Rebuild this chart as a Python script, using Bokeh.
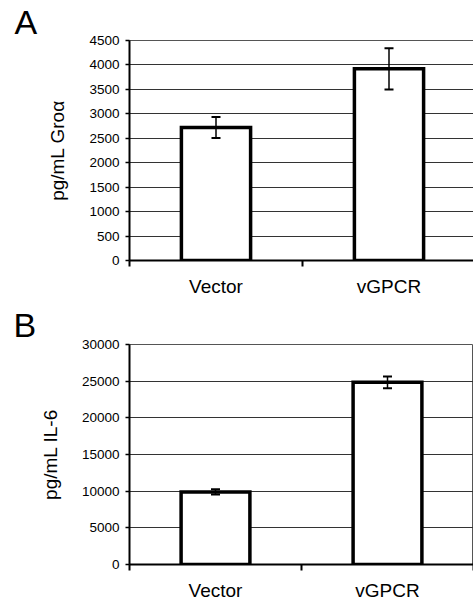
from bokeh.plotting import figure
from bokeh.models import FixedTicker, Whisker, ColumnDataSource, Range1d, TeeHead, Title
from bokeh.layouts import column
from bokeh.embed import file_html
from bokeh.resources import INLINE

categories = ["Vector", "vGPCR"]
gro_values = [2720, 3920]
gro_errors = [215, 420]
il6_values = [9900, 24850]
il6_errors = [350, 800]
gro_ticks = [0, 500, 1000, 1500, 2000, 2500, 3000, 3500, 4000, 4500]
il6_ticks = [0, 5000, 10000, 15000, 20000, 25000, 30000]

FONT = "Liberation Sans"
TOTAL_W = 473


def make_panel(letter, values, errors, yticks, ylabel, border_left, border_top,
               border_bottom, x_standoff, letter_offset, letter_standoff):
    xs = [i + 0.5 for i in range(len(categories))]
    src = ColumnDataSource(dict(
        x=xs, top=values,
        upper=[v + e for v, e in zip(values, errors)],
        lower=[v - e for v, e in zip(values, errors)],
    ))
    title = Title(text=letter, align="left", offset=letter_offset,
                  standoff=letter_standoff, text_font=FONT,
                  text_font_size="34px", text_font_style="normal",
                  text_color="black")
    p = figure(frame_width=TOTAL_W - border_left, frame_height=220,
               x_range=Range1d(0, len(categories)),
               y_range=Range1d(yticks[0], yticks[-1]),
               output_backend="svg", toolbar_location=None, title=title,
               min_border_left=border_left, min_border_right=0,
               min_border_top=border_top, min_border_bottom=border_bottom)
    p.background_fill_color = "white"
    p.border_fill_color = "white"
    p.outline_line_color = "#555555"
    p.outline_line_width = 1

    p.vbar(x="x", top="top", width=0.4, bottom=0, source=src,
           fill_color="white", line_color="black", line_width=3.5,
           line_join="miter")

    w = Whisker(base="x", upper="upper", lower="lower", source=src,
                line_color="black", line_width=1.5, level="overlay",
                upper_head=TeeHead(size=9, line_width=2, line_color="black"),
                lower_head=TeeHead(size=9, line_width=2, line_color="black"))
    p.add_layout(w)

    # x axis
    xa = p.xaxis[0]
    xa.ticker = FixedTicker(ticks=xs, minor_ticks=list(range(len(categories) + 1)))
    xa.major_label_overrides = {x: c for x, c in zip(xs, categories)}
    xa.major_tick_out = 0
    xa.major_tick_in = 0
    xa.minor_tick_out = 6
    xa.minor_tick_in = 0
    xa.minor_tick_line_color = "black"
    xa.minor_tick_line_width = 2
    xa.axis_line_width = 2
    xa.axis_line_color = "black"
    xa.major_label_text_font = FONT
    xa.major_label_text_font_size = "19px"
    xa.major_label_text_color = "black"
    xa.major_label_standoff = x_standoff
    p.xgrid.visible = False

    # y axis
    ya = p.yaxis[0]
    ya.ticker = FixedTicker(ticks=yticks)
    ya.major_tick_out = 4
    ya.major_tick_in = 0
    ya.minor_tick_out = 0
    ya.major_tick_line_width = 1.5
    ya.axis_line_width = 2
    ya.axis_line_color = "black"
    ya.major_label_text_font = FONT
    ya.major_label_text_font_size = "13.5px"
    ya.major_label_text_color = "black"
    ya.major_label_standoff = 6
    ya.axis_label = ylabel
    ya.axis_label_text_font = FONT
    ya.axis_label_text_font_size = "19px"
    ya.axis_label_text_font_style = "normal"
    ya.axis_label_text_color = "black"
    ya.axis_label_standoff = 18

    p.ygrid.grid_line_color = "#333333"
    p.ygrid.grid_line_width = 1
    return p


pa = make_panel("A", gro_values, gro_errors, gro_ticks, "pg/mL Groα",
                border_left=127, border_top=39, border_bottom=41, x_standoff=9,
                letter_offset=-115, letter_standoff=0)
pb = make_panel("B", il6_values, il6_errors, il6_ticks, "pg/mL IL-6",
                border_left=129, border_top=43, border_bottom=39, x_standoff=9,
                letter_offset=-116, letter_standoff=2)

layout = column(pa, pb, spacing=0)
open("out.html", "w").write(file_html(layout, INLINE))
